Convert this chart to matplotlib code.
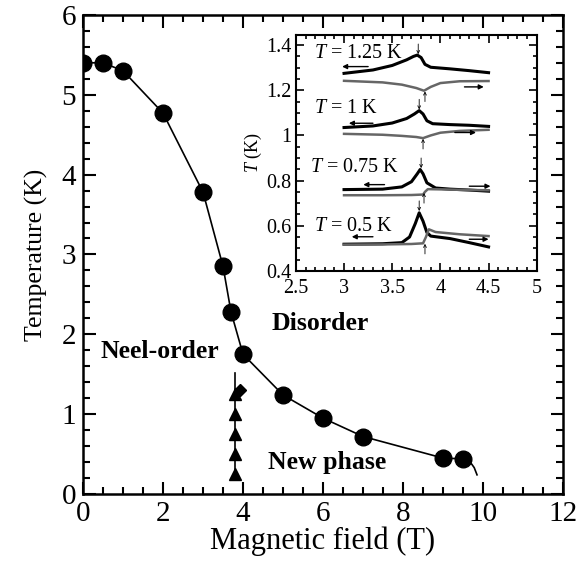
import numpy as np
import matplotlib
matplotlib.use('Agg')
import matplotlib.pyplot as plt
from matplotlib.ticker import MultipleLocator

plt.rcParams['font.family'] = ['Liberation Serif', 'DejaVu Serif']
plt.rcParams['mathtext.fontset'] = 'custom'
plt.rcParams['mathtext.it'] = 'Liberation Serif:italic'
plt.rcParams['mathtext.rm'] = 'Liberation Serif'

# phase boundary (circles)
field = [0, 0.5, 1, 2, 3, 3.5, 3.7, 4, 5, 6, 7, 9, 9.5]
temp = [5.4, 5.4, 5.3, 4.77, 3.78, 2.85, 2.28, 1.75, 1.24, 0.95, 0.72, 0.45, 0.44]
tail_field = [9.5, 9.68, 9.78, 9.85]
tail_temp = [0.44, 0.40, 0.33, 0.24]

# new phase boundary (triangles)
tri_field = [3.8, 3.8, 3.8, 3.8, 3.8]
tri_temp = [0.25, 0.5, 0.75, 1.0, 1.25]
vline_temp = [0.2, 1.52]
dia_field = [3.92]
dia_temp = [1.3]

# inset curves: (x, y) for field-decreasing (black) and field-increasing (gray)
inset_labels = ['1.25', '1', '0.75', '0.5']
label_pos = [(2.69, 1.363), (2.69, 1.12), (2.65, 0.856), (2.69, 0.598)]

blk_x = [
    [3.0, 3.3, 3.5, 3.65, 3.72, 3.76, 3.8, 3.84, 3.9, 4.1, 4.3, 4.5],
    [3.0, 3.3, 3.5, 3.65, 3.73, 3.78, 3.82, 3.86, 3.92, 4.1, 4.3, 4.5],
    [3.0, 3.4, 3.6, 3.7, 3.76, 3.79, 3.82, 3.86, 3.95, 4.1, 4.3, 4.5],
    [3.0, 3.4, 3.6, 3.68, 3.74, 3.78, 3.82, 3.86, 3.9, 4.1, 4.3, 4.5],
]
blk_y = [
    [1.275, 1.29, 1.31, 1.335, 1.35, 1.356, 1.345, 1.315, 1.302, 1.295, 1.287, 1.278],
    [1.035, 1.042, 1.055, 1.075, 1.095, 1.11, 1.095, 1.065, 1.052, 1.048, 1.045, 1.04],
    [0.76, 0.762, 0.772, 0.795, 0.83, 0.849, 0.83, 0.79, 0.767, 0.762, 0.758, 0.753],
    [0.518, 0.52, 0.525, 0.55, 0.61, 0.657, 0.62, 0.57, 0.554, 0.543, 0.525, 0.506],
]
gry_x = [
    [3.0, 3.4, 3.6, 3.75, 3.83, 3.9, 4.0, 4.2, 4.5],
    [3.0, 3.4, 3.6, 3.75, 3.82, 3.9, 4.0, 4.2, 4.5],
    [3.0, 3.4, 3.7, 3.82, 3.84, 3.87, 4.0, 4.2, 4.5],
    [3.0, 3.4, 3.7, 3.82, 3.85, 3.88, 3.95, 4.2, 4.5],
]
gry_y = [
    [1.242, 1.235, 1.225, 1.21, 1.198, 1.215, 1.232, 1.24, 1.241],
    [1.007, 1.003, 0.998, 0.993, 0.988, 1.0, 1.012, 1.02, 1.025],
    [0.735, 0.735, 0.736, 0.738, 0.75, 0.762, 0.761, 0.759, 0.757],
    [0.516, 0.517, 0.519, 0.522, 0.55, 0.584, 0.572, 0.562, 0.554],
]

# arrows: direction arrows (x_start, x_end, y)
left_arrows = [(3.25, 2.98, 1.305), (3.3, 3.05, 1.054), (3.42, 3.2, 0.782), (3.3, 3.08, 0.551)]
right_arrows = [(4.25, 4.45, 1.215), (4.15, 4.37, 1.013), (4.3, 4.52, 0.775), (4.3, 4.5, 0.54)]
# transition markers: down arrows above peaks, up arrows below dips (x, y_tip)
down_marks = [(3.77, 1.36), (3.78, 1.115), (3.8, 0.855), (3.78, 0.665)]
up_marks = [(3.84, 1.195), (3.82, 0.985), (3.83, 0.745), (3.84, 0.52)]

fig = plt.figure(figsize=(5.79, 5.69), dpi=100)
ax = fig.add_axes([0.1434, 0.1318, 0.829, 0.842])

ax.plot(field, temp, 'k-', lw=1.2)
ax.plot(tail_field, tail_temp, 'k-', lw=1.2)
ax.plot(field, temp, 'ko', ms=12, ls='none')
ax.plot([3.8, 3.8], vline_temp, 'k-', lw=1.2)
ax.plot(tri_field, tri_temp, 'k^', ms=8, ls='none')
ax.plot(dia_field, dia_temp, 'kD', ms=6, ls='none')

ax.set_xlim(0, 12)
ax.set_ylim(0, 6)
ax.xaxis.set_major_locator(MultipleLocator(2))
ax.xaxis.set_minor_locator(MultipleLocator(0.5))
ax.yaxis.set_major_locator(MultipleLocator(1))
ax.yaxis.set_minor_locator(MultipleLocator(0.2))
ax.tick_params(which='both', direction='in', top=True, right=True, width=1.5)
ax.tick_params(which='major', length=9, labelsize=21, pad=5)
ax.tick_params(which='minor', length=5)
for s in ax.spines.values():
    s.set_linewidth(1.8)
ax.set_xlabel('Magnetic field (T)', fontsize=22, labelpad=0)
ax.set_ylabel('Temperature (K)', fontsize=18.5, labelpad=10)

ax.text(0.43, 1.78, 'Neel-order', fontsize=18.5, fontweight='bold', va='center')
ax.text(4.72, 2.14, 'Disorder', fontsize=18.5, fontweight='bold', va='center')
ax.text(4.63, 0.4, 'New phase', fontsize=18.5, fontweight='bold', va='center')

# inset
ins = fig.add_axes([0.511, 0.524, 0.416, 0.4145])
for bx, by in zip(blk_x, blk_y):
    ins.plot(bx, by, color='black', lw=2.2)
for gx, gy in zip(gry_x, gry_y):
    ins.plot(gx, gy, color='#666666', lw=1.8)
for lab, (tx, ty) in zip(inset_labels, label_pos):
    ins.text(tx, ty, r'$T$ = ' + lab + ' K', fontsize=14.5, va='center')
for x0, x1, y in left_arrows + right_arrows:
    ins.annotate('', xy=(x1, y), xytext=(x0, y),
                 arrowprops=dict(arrowstyle='-|>', color='black', lw=1.0,
                                 mutation_scale=7, shrinkA=0, shrinkB=0))
for x, y in down_marks:
    ins.annotate('', xy=(x, y), xytext=(x, y + 0.045),
                 arrowprops=dict(arrowstyle='->', color='black', lw=0.6,
                                 mutation_scale=5, shrinkA=0, shrinkB=0))
for x, y in up_marks:
    ins.annotate('', xy=(x, y), xytext=(x, y - 0.045),
                 arrowprops=dict(arrowstyle='->', color='black', lw=0.6,
                                 mutation_scale=5, shrinkA=0, shrinkB=0))

ins.set_xlim(2.5, 5)
ins.set_ylim(0.4, 1.445)
ins.set_xticks([2.5, 3, 3.5, 4, 4.5, 5])
ins.set_xticklabels(['2.5', '3', '3.5', '4', '4.5', '5'])
ins.set_yticks([0.4, 0.6, 0.8, 1.0, 1.2, 1.4])
ins.set_yticklabels(['0.4', '0.6', '0.8', '1', '1.2', '1.4'])
ins.xaxis.set_minor_locator(MultipleLocator(0.1))
ins.yaxis.set_minor_locator(MultipleLocator(0.05))
ins.tick_params(which='both', direction='in', top=True, right=True, width=1.2)
ins.tick_params(which='major', length=6, labelsize=14.5)
ins.tick_params(axis='x', which='major', pad=6)
ins.tick_params(axis='y', which='major', pad=3)
ins.tick_params(which='minor', length=3)
for s in ins.spines.values():
    s.set_linewidth(1.5)
ins.set_ylabel(r'$T$ (K)', fontsize=13, labelpad=2)

fig.savefig('out.png', dpi=100)
